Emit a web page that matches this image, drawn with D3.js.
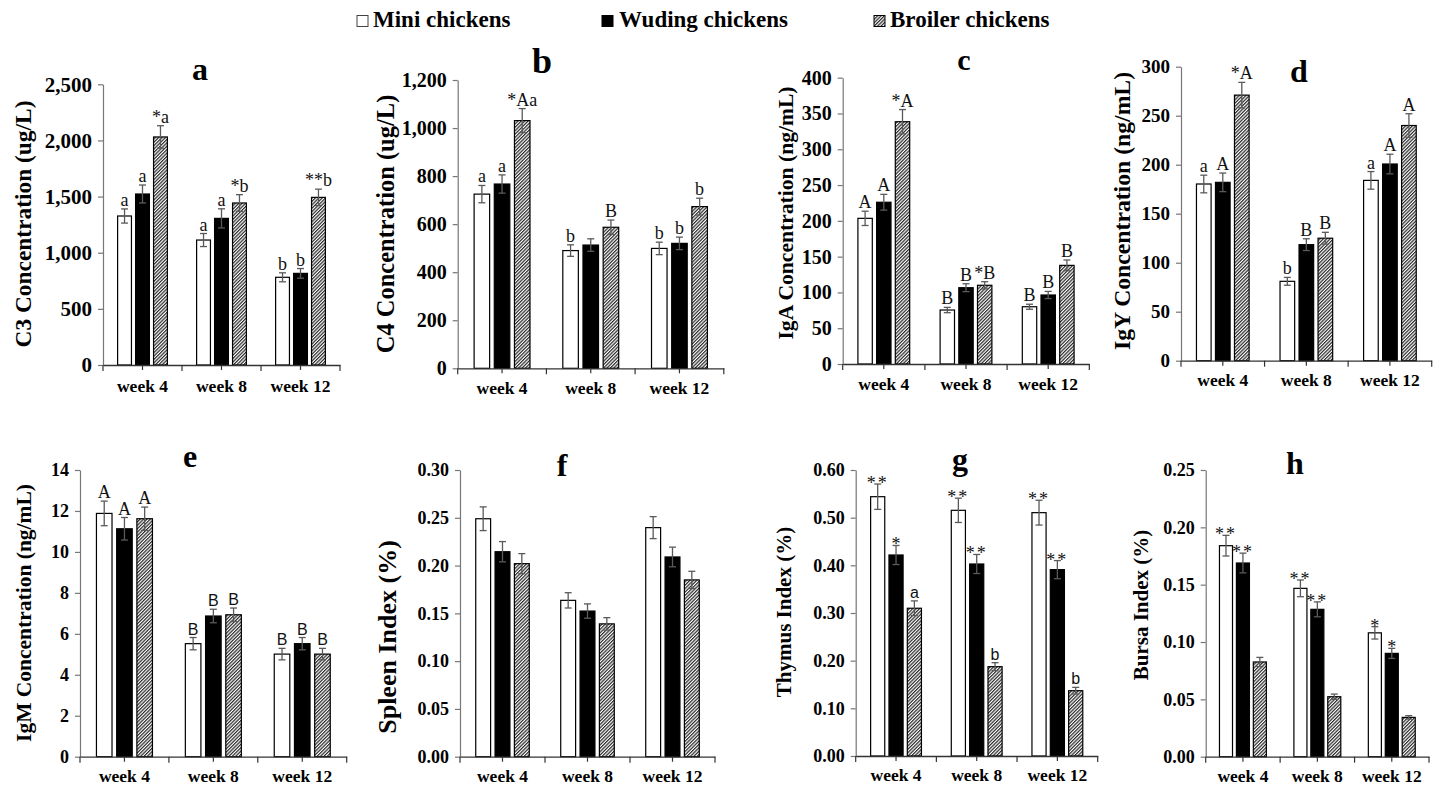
<!DOCTYPE html>
<html><head><meta charset="utf-8">
<script src="https://cdn.jsdelivr.net/npm/d3@7"></script>
<style>body{margin:0;background:#fff} svg{display:block}</style>
</head><body><svg id="c" width="1441" height="787"></svg>
<script>
// ---------- data ----------
const weeks = ["week 4", "week 8", "week 12"];
const groups = ["Mini chickens", "Wuding chickens", "Broiler chickens"];

const c3Mean = [[1327, 1523, 2031], [1113, 1306, 1443], [781, 816, 1493]];
const c3Err  = [[63, 80, 100], [58, 85, 74], [40, 43, 73]];
const c3Sig  = [["a", "a", "*a"], ["a", "a", "*b"], ["b", "b", "**b"]];

const c4Mean = [[725, 767, 1031], [490, 513, 587], [499, 520, 673]];
const c4Err  = [[36, 38, 50], [24, 26, 30], [26, 26, 35]];
const c4Sig  = [["a", "a", "*Aa"], ["b", "", "B"], ["b", "b", "b"]];

const igaMean = [[203.5, 226, 338.5], [75.4, 106.6, 110], [80, 96.4, 137.8]];
const igaErr  = [[10, 11, 17], [3.7, 5.5, 5], [3.5, 5, 7.5]];
const igaSig  = [["A", "A", "*A"], ["B", "B", "*B"], ["B", "B", "B"]];

const igyMean = [[180.3, 182, 271], [81, 118.4, 125], [184, 200.7, 240]];
const igyErr  = [[9, 9.5, 13], [4, 6, 6], [9, 10, 12]];
const igySig  = [["a", "A", "*A"], ["b", "B", "B"], ["a", "A", "A"]];

const igmMean = [[11.88, 11.13, 11.62], [5.52, 6.87, 6.93], [5.01, 5.52, 5.01]];
const igmErr  = [[0.6, 0.55, 0.57], [0.3, 0.33, 0.33], [0.28, 0.3, 0.28]];
const igmSig  = [["A", "A", "A"], ["B", "B", "B"], ["B", "B", "B"]];

const spleenMean = [[0.249, 0.2145, 0.202], [0.1636, 0.1524, 0.139], [0.2397, 0.209, 0.185]];
const spleenErr  = [[0.0124, 0.0106, 0.0105], [0.008, 0.0075, 0.0065], [0.0115, 0.0103, 0.009]];
const spleenSig  = [["", "", ""], ["", "", ""], ["", "", ""]];

const thymusMean = [[0.544, 0.4217, 0.31], [0.5154, 0.4028, 0.1874], [0.5105, 0.391, 0.137]];
const thymusErr  = [[0.0266, 0.02, 0.0154], [0.0255, 0.02, 0.0084], [0.026, 0.019, 0.007]];
const thymusSig  = [["**", "*", "a"], ["**", "**", "b"], ["**", "**", "b"]];

const bursaMean = [[0.184, 0.1689, 0.0826], [0.1468, 0.1285, 0.0523], [0.108, 0.0901, 0.0343]];
const bursaErr  = [[0.009, 0.0086, 0.004], [0.0073, 0.0065, 0.0023], [0.0054, 0.0044, 0.0015]];
const bursaSig  = [["**", "**", ""], ["**", "**", ""], ["*", "*", ""]];

const yLabels = ["C3 Concentration (ug/L)", "C4 Concentration (ug/L)", "IgA Concentration (ng/mL)",
  "IgY Concentration (ng/mL)", "IgM Concentration (ng/mL)", "Spleen Index (%)", "Thymus Index (%)", "Bursa Index (%)"];
const panelTitles = ["a", "b", "c", "d", "e", "f", "g", "h"];
const yMaxes = [2500, 1200, 400, 300, 14, 0.30, 0.60, 0.25];
const ySteps = [500, 200, 50, 50, 2, 0.05, 0.10, 0.05];
const yFormats = [",", ",", "d", "d", "d", ".2f", ".2f", ".2f"];

// ---------- layout ----------
const layout = [
  {x0:103,   x1:340,    y0:365,   yT:84.3, tx:200,  ty:80,  tfs:32, ylx:23,   yly:224, ylfs:23.4, tickFs:21, wk:27},
  {x0:457.7, x1:723.8,  y0:368.3, yT:80,   tx:542,  ty:73,  tfs:36, ylx:385,  yly:224, ylfs:24.5, tickFs:20, wk:26},
  {x0:842.7, x1:1089.3, y0:364,   yT:77.7, tx:964,  ty:70,  tfs:30, ylx:785,  yly:213, ylfs:21.6, tickFs:20, wk:26},
  {x0:1181,  x1:1431.7, y0:360.7, yT:66.7, tx:1299, ty:82,  tfs:32, ylx:1122, yly:211, ylfs:23.7, tickFs:19, wk:25},
  {x0:80,    x1:346.7,  y0:756.7, yT:470,  tx:190,  ty:467, tfs:32, ylx:23,   yly:613, ylfs:21.5, tickFs:18, wk:25, sansWeeks:[1,2]},
  {x0:460,   x1:715,    y0:756.7, yT:470,  tx:562,  ty:476, tfs:32, ylx:387,  yly:637, ylfs:26,   tickFs:18, wk:25},
  {x0:855.7, x1:1097.7, y0:756,   yT:470,  tx:960,  ty:470, tfs:32, ylx:784,  yly:612, ylfs:21,   tickFs:18, wk:25, sansLetters:true},
  {x0:1205.7,x1:1429,   y0:756.7, yT:470,  tx:1295, ty:474, tfs:32, ylx:1141, yly:605, ylfs:21,   tickFs:18, wk:25}
];
const means = [c3Mean, c4Mean, igaMean, igyMean, igmMean, spleenMean, thymusMean, bursaMean];
const errs = [c3Err, c4Err, igaErr, igyErr, igmErr, spleenErr, thymusErr, bursaErr];
const sigs = [c3Sig, c4Sig, igaSig, igySig, igmSig, spleenSig, thymusSig, bursaSig];

const SERIF = "'Liberation Serif','Times New Roman',serif";
const SANS = "'Liberation Sans',Arial,sans-serif";

const svg = d3.select("#c");
const defs = svg.append("defs");
const pat = defs.append("pattern").attr("id", "hatch").attr("patternUnits", "userSpaceOnUse")
  .attr("width", 2.4).attr("height", 2.4).attr("patternTransform", "rotate(45)");
pat.append("rect").attr("width", 2.4).attr("height", 2.4).attr("fill", "#fff");
pat.append("line").attr("x1", 0.6).attr("y1", 0).attr("x2", 0.6).attr("y2", 2.4)
  .attr("stroke", "#2a2a2a").attr("stroke-width", 1.25);

const fills = ["#fff", "#000", "url(#hatch)"];

// ---------- legend ----------
const legX = [357, 602, 874];
const legTX = [373, 619, 890];
const leg = svg.append("g");
groups.forEach((g, i) => {
  leg.append("rect").attr("x", legX[i]).attr("y", 15.5).attr("width", 11).attr("height", 11)
    .attr("fill", fills[i]).attr("stroke", i === 0 ? "#444" : "#000").attr("stroke-width", 1);
  leg.append("text").attr("x", legTX[i]).attr("y", 27).text(g)
    .attr("font-family", SERIF).attr("font-weight", "bold").attr("font-size", 23);
});

// ---------- panels ----------
layout.forEach((L, p) => {
  const g = svg.append("g");
  const y = d3.scaleLinear().domain([0, yMaxes[p]]).range([L.y0, L.yT]);
  const x = d3.scaleBand().domain(weeks).range([L.x0, L.x1]).padding(0);
  const bw = x.bandwidth();
  const xi = d3.scaleBand().domain(groups).range([0.185 * bw, 0.815 * bw]).paddingInner(0.23).paddingOuter(0);

  // y axis
  const ticks = d3.range(0, yMaxes[p] + ySteps[p] / 2, ySteps[p]);
  const ya = g.append("g").attr("transform", `translate(${L.x0},0)`)
    .call(d3.axisLeft(y).tickValues(ticks).tickSize(5).tickSizeOuter(0).tickPadding(6).tickFormat(d3.format(yFormats[p])));
  ya.select(".domain").attr("stroke", "#777").attr("stroke-width", 1.2);
  ya.selectAll(".tick line").attr("stroke", "#777").attr("stroke-width", 1.2);
  ya.selectAll("text").attr("font-family", SERIF).attr("font-weight", "bold").attr("font-size", L.tickFs).attr("fill", "#000");

  // bars
  weeks.forEach((w, i) => {
    groups.forEach((gr, j) => {
      const m = means[p][i][j], e = errs[p][i][j];
      const bx = x(w) + xi(gr);
      g.append("rect").attr("x", bx).attr("y", y(m)).attr("width", xi.bandwidth()).attr("height", y(0) - y(m))
        .attr("fill", fills[j]).attr("stroke", "#000").attr("stroke-width", 1.2);
      const cx = bx + xi.bandwidth() / 2;
      const eb = g.append("g").attr("stroke", "#5a5a5a").attr("stroke-width", 1.3);
      eb.append("line").attr("x1", cx).attr("x2", cx).attr("y1", y(m - e)).attr("y2", y(m + e));
      eb.append("line").attr("x1", cx - 3.5).attr("x2", cx + 3.5).attr("y1", y(m - e)).attr("y2", y(m - e));
      eb.append("line").attr("x1", cx - 3.5).attr("x2", cx + 3.5).attr("y1", y(m + e)).attr("y2", y(m + e));
      const s = sigs[p][i][j];
      if (s) {
        const starOnly = /^\*+$/.test(s);
        let fam = SERIF, fs = 18;
        if (L.sansWeeks && L.sansWeeks.includes(i)) { fam = SANS; fs = 16; }
        if (L.sansLetters && !starOnly) { fam = SANS; fs = 16; }
        g.append("text").attr("x", cx).attr("y", y(m + e) + (starOnly ? 5 : -3))
          .attr("text-anchor", "middle").attr("font-family", fam).attr("font-size", fs)
          .attr("letter-spacing", starOnly && s.length > 1 ? 2 : 0)
          .attr("fill", "#111").text(s);
      }
    });
  });

  // x axis
  const xa = g.append("g").attr("transform", `translate(0,${L.y0})`)
    .call(d3.axisBottom(x).tickSize(5).tickSizeOuter(0).tickPadding(0));
  xa.select(".domain").attr("stroke", "#333").attr("stroke-width", 1.3);
  xa.selectAll(".tick line").attr("stroke", "#333").attr("stroke-width", 1.2);
  xa.selectAll("text").attr("font-family", SERIF).attr("font-weight", "bold").attr("font-size", 17.5).attr("fill", "#000")
    .attr("y", L.wk).attr("dy", 0);
  [0, 1, 2, 3].forEach(k => {
    const bxk = L.x0 + k * bw;
    xa.append("line").attr("x1", bxk).attr("x2", bxk).attr("y1", 0).attr("y2", 6)
      .attr("stroke", "#333").attr("stroke-width", 1.2);
  });

  // title
  g.append("text").attr("x", L.tx).attr("y", L.ty).attr("text-anchor", "middle")
    .attr("font-family", SERIF).attr("font-weight", "bold").attr("font-size", L.tfs).text(panelTitles[p]);

  // y label
  g.append("text").attr("transform", `translate(${L.ylx},${L.yly}) rotate(-90)`)
    .attr("text-anchor", "middle").attr("dy", "0.35em")
    .attr("font-family", SERIF).attr("font-weight", "bold").attr("font-size", L.ylfs).text(yLabels[p]);
});
</script>
</body></html>
